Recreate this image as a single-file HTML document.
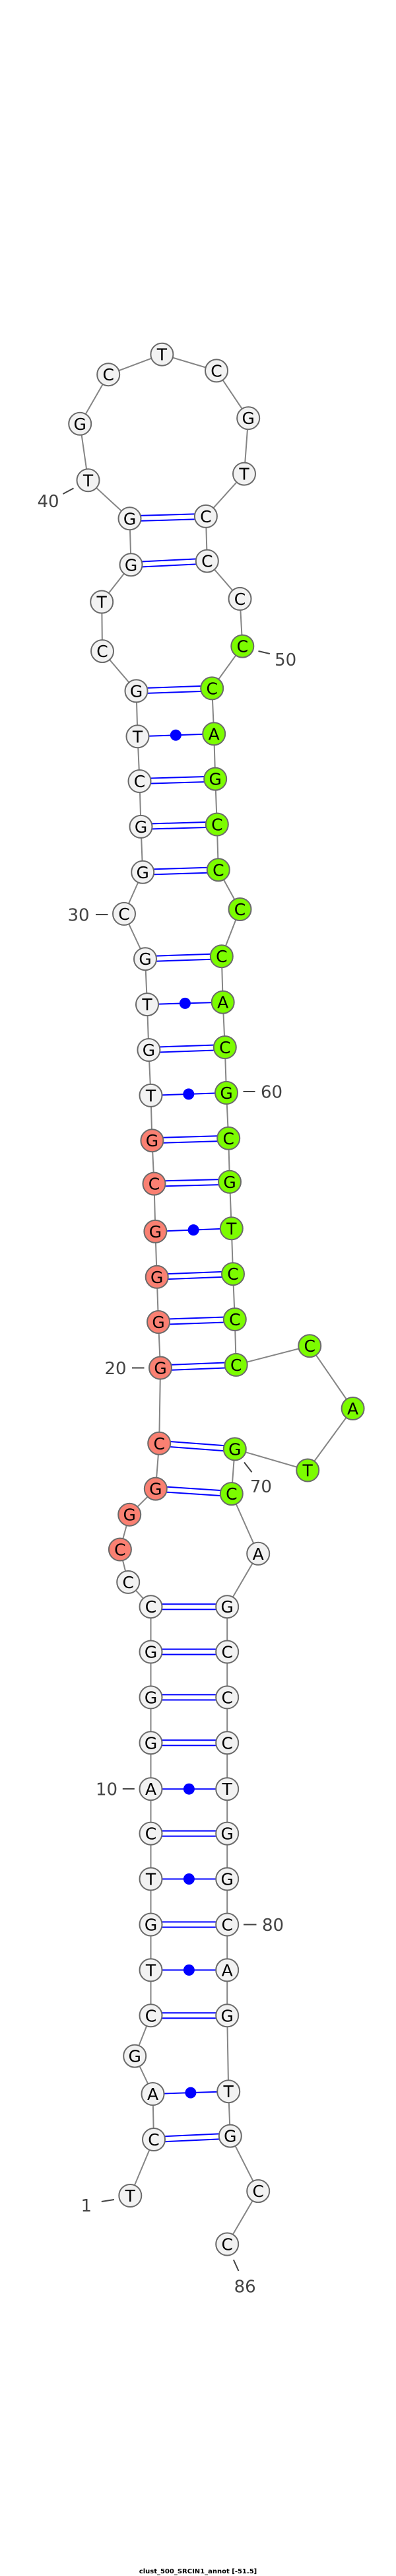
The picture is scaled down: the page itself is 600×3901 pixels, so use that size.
<!DOCTYPE html>
<html><head><meta charset="utf-8"><style>
html,body{margin:0;padding:0;background:#fff}
svg{display:block}
.bb{fill:none;stroke:#858585;stroke-width:2}
.p{stroke:#0000ff;stroke-width:2}
.n circle{stroke:#6a6a6a;stroke-width:2}
.n text{font-family:"DejaVu Sans","Liberation Sans",sans-serif;font-size:25px;text-anchor:middle;fill:#000}
.w{fill:#f2f2f2}.g{fill:#7cfc00}.r{fill:#fa8072}
.lb{font-family:"DejaVu Sans","Liberation Sans",sans-serif;font-size:26px;fill:#444;text-anchor:middle}
.tk{stroke:#444;stroke-width:2}
</style></head><body>
<svg width="600" height="3901" viewBox="0 0 600 3901" xmlns="http://www.w3.org/2000/svg">
<polyline class="bb" points="197.3,3325 233,3240 231.5,3171 204.2,3113.6 228.5,3052.3 228.5,2983.4 228.5,2914.5 228.5,2845.5 228.5,2776.6 228.5,2709.2 228.5,2639.3 228.5,2570.4 228.5,2501.5 228.5,2433.2 194.2,2395.9 181.9,2346.5 196.2,2293.7 235.8,2254.6 241.2,2185.8 243,2071.5 240,2002 237.7,1933.8 235.4,1864.9 233.5,1792.6 230.4,1727.2 228.5,1658.9 225.4,1590 223,1521.1 220,1452.2 188,1383.9 216.2,1320.8 213.5,1251.9 211.5,1183 208.5,1115.3 206.5,1046.4 155,986.1 154.2,911.5 198.5,855.3 196.5,785.3 133.5,727.3 121.2,641.8 164.2,567.2 245.4,536.7 328,561.4 376.2,633.2 370,717.6 311.9,781.9 313.8,849.6 363.5,906.9 367.3,978.6 321.2,1042.4 324.2,1111.3 326.2,1179.6 328.8,1248.5 330.8,1317.3 363.5,1377 335.8,1448.2 337.7,1517.7 340.8,1586 343,1654.9 346.2,1723.8 348,1789.8 350.8,1860.3 353,1929.2 355.8,1998 357.7,2066.9 469.2,2038.2 534.6,2133 466.2,2226.5 355.8,2194.4 350.8,2262.1 391.2,2352.8 344.2,2433.2 344.2,2501.5 344.2,2570.4 344.2,2639.3 344.2,2709.2 344.2,2776.6 344.2,2845.5 344.2,2914.5 344.2,2983.4 344.2,3052.3 346.2,3167.2 348.8,3234.6 391.2,3318.1 344.2,3398.5"/>
<g class="p">
<line x1="196.5" y1="781.3" x2="311.9" y2="777.9"/><line x1="196.5" y1="789.3" x2="311.9" y2="785.9"/>
<line x1="198.5" y1="851.3" x2="313.8" y2="845.6"/><line x1="198.5" y1="859.3" x2="313.8" y2="853.6"/>
<line x1="206.5" y1="1042.4" x2="321.2" y2="1038.4"/><line x1="206.5" y1="1050.4" x2="321.2" y2="1046.4"/>
<line x1="211.5" y1="1179" x2="326.2" y2="1175.6"/><line x1="211.5" y1="1187" x2="326.2" y2="1183.6"/>
<line x1="213.5" y1="1247.9" x2="328.8" y2="1244.5"/><line x1="213.5" y1="1255.9" x2="328.8" y2="1252.5"/>
<line x1="216.2" y1="1316.8" x2="330.8" y2="1313.3"/><line x1="216.2" y1="1324.8" x2="330.8" y2="1321.3"/>
<line x1="220" y1="1448.2" x2="335.8" y2="1444.2"/><line x1="220" y1="1456.2" x2="335.8" y2="1452.2"/>
<line x1="225.4" y1="1586" x2="340.8" y2="1582"/><line x1="225.4" y1="1594" x2="340.8" y2="1590"/>
<line x1="230.4" y1="1723.2" x2="346.2" y2="1719.8"/><line x1="230.4" y1="1731.2" x2="346.2" y2="1727.8"/>
<line x1="233.5" y1="1788.6" x2="348" y2="1785.8"/><line x1="233.5" y1="1796.6" x2="348" y2="1793.8"/>
<line x1="237.7" y1="1929.8" x2="353" y2="1925.2"/><line x1="237.7" y1="1937.8" x2="353" y2="1933.2"/>
<line x1="240" y1="1998" x2="355.8" y2="1994"/><line x1="240" y1="2006" x2="355.8" y2="2002"/>
<line x1="243" y1="2067.5" x2="357.7" y2="2062.9"/><line x1="243" y1="2075.5" x2="357.7" y2="2070.9"/>
<line x1="241.2" y1="2181.8" x2="355.8" y2="2190.4"/><line x1="241.2" y1="2189.8" x2="355.8" y2="2198.4"/>
<line x1="235.8" y1="2250.6" x2="350.8" y2="2258.1"/><line x1="235.8" y1="2258.6" x2="350.8" y2="2266.1"/>
<line x1="228.5" y1="2429.2" x2="344.2" y2="2429.2"/><line x1="228.5" y1="2437.2" x2="344.2" y2="2437.2"/>
<line x1="228.5" y1="2497.5" x2="344.2" y2="2497.5"/><line x1="228.5" y1="2505.5" x2="344.2" y2="2505.5"/>
<line x1="228.5" y1="2566.4" x2="344.2" y2="2566.4"/><line x1="228.5" y1="2574.4" x2="344.2" y2="2574.4"/>
<line x1="228.5" y1="2635.3" x2="344.2" y2="2635.3"/><line x1="228.5" y1="2643.3" x2="344.2" y2="2643.3"/>
<line x1="228.5" y1="2772.6" x2="344.2" y2="2772.6"/><line x1="228.5" y1="2780.6" x2="344.2" y2="2780.6"/>
<line x1="228.5" y1="2910.5" x2="344.2" y2="2910.5"/><line x1="228.5" y1="2918.5" x2="344.2" y2="2918.5"/>
<line x1="228.5" y1="3048.3" x2="344.2" y2="3048.3"/><line x1="228.5" y1="3056.3" x2="344.2" y2="3056.3"/>
<line x1="233" y1="3236" x2="348.8" y2="3230.6"/><line x1="233" y1="3244" x2="348.8" y2="3238.6"/>
<line x1="208.5" y1="1115.3" x2="324.2" y2="1111.3"/>
<line x1="223" y1="1521.1" x2="337.7" y2="1517.7"/>
<line x1="228.5" y1="1658.9" x2="343" y2="1654.9"/>
<line x1="235.4" y1="1864.9" x2="350.8" y2="1860.3"/>
<line x1="228.5" y1="2709.2" x2="344.2" y2="2709.2"/>
<line x1="228.5" y1="2845.5" x2="344.2" y2="2845.5"/>
<line x1="228.5" y1="2983.4" x2="344.2" y2="2983.4"/>
<line x1="231.5" y1="3171" x2="346.2" y2="3167.2"/>
</g>
<g fill="#0000ff">
<circle cx="266.3" cy="1113.3" r="8.5"/><circle cx="280.4" cy="1519.4" r="8.5"/><circle cx="285.8" cy="1656.9" r="8.5"/><circle cx="293.1" cy="1862.6" r="8.5"/><circle cx="286.4" cy="2709.2" r="8.5"/><circle cx="286.4" cy="2845.5" r="8.5"/><circle cx="286.4" cy="2983.4" r="8.5"/><circle cx="288.9" cy="3169.1" r="8.5"/>
</g>
<g class="n">
<circle class="w" cx="197.3" cy="3325" r="17"/><text x="197.3" y="3334">T</text>
<circle class="w" cx="233" cy="3240" r="17"/><text x="233" y="3249">C</text>
<circle class="w" cx="231.5" cy="3171" r="17"/><text x="231.5" y="3180">A</text>
<circle class="w" cx="204.2" cy="3113.6" r="17"/><text x="204.2" y="3122.6">G</text>
<circle class="w" cx="228.5" cy="3052.3" r="17"/><text x="228.5" y="3061.3">C</text>
<circle class="w" cx="228.5" cy="2983.4" r="17"/><text x="228.5" y="2992.4">T</text>
<circle class="w" cx="228.5" cy="2914.5" r="17"/><text x="228.5" y="2923.5">G</text>
<circle class="w" cx="228.5" cy="2845.5" r="17"/><text x="228.5" y="2854.5">T</text>
<circle class="w" cx="228.5" cy="2776.6" r="17"/><text x="228.5" y="2785.6">C</text>
<circle class="w" cx="228.5" cy="2709.2" r="17"/><text x="228.5" y="2718.2">A</text>
<circle class="w" cx="228.5" cy="2639.3" r="17"/><text x="228.5" y="2648.3">G</text>
<circle class="w" cx="228.5" cy="2570.4" r="17"/><text x="228.5" y="2579.4">G</text>
<circle class="w" cx="228.5" cy="2501.5" r="17"/><text x="228.5" y="2510.5">G</text>
<circle class="w" cx="228.5" cy="2433.2" r="17"/><text x="228.5" y="2442.2">C</text>
<circle class="w" cx="194.2" cy="2395.9" r="17"/><text x="194.2" y="2404.9">C</text>
<circle class="r" cx="181.9" cy="2346.5" r="17"/><text x="181.9" y="2355.5">C</text>
<circle class="r" cx="196.2" cy="2293.7" r="17"/><text x="196.2" y="2302.7">G</text>
<circle class="r" cx="235.8" cy="2254.6" r="17"/><text x="235.8" y="2263.6">G</text>
<circle class="r" cx="241.2" cy="2185.8" r="17"/><text x="241.2" y="2194.8">C</text>
<circle class="r" cx="243" cy="2071.5" r="17"/><text x="243" y="2080.5">G</text>
<circle class="r" cx="240" cy="2002" r="17"/><text x="240" y="2011">G</text>
<circle class="r" cx="237.7" cy="1933.8" r="17"/><text x="237.7" y="1942.8">G</text>
<circle class="r" cx="235.4" cy="1864.9" r="17"/><text x="235.4" y="1873.9">G</text>
<circle class="r" cx="233.5" cy="1792.6" r="17"/><text x="233.5" y="1801.6">C</text>
<circle class="r" cx="230.4" cy="1727.2" r="17"/><text x="230.4" y="1736.2">G</text>
<circle class="w" cx="228.5" cy="1658.9" r="17"/><text x="228.5" y="1667.9">T</text>
<circle class="w" cx="225.4" cy="1590" r="17"/><text x="225.4" y="1599">G</text>
<circle class="w" cx="223" cy="1521.1" r="17"/><text x="223" y="1530.1">T</text>
<circle class="w" cx="220" cy="1452.2" r="17"/><text x="220" y="1461.2">G</text>
<circle class="w" cx="188" cy="1383.9" r="17"/><text x="188" y="1392.9">C</text>
<circle class="w" cx="216.2" cy="1320.8" r="17"/><text x="216.2" y="1329.8">G</text>
<circle class="w" cx="213.5" cy="1251.9" r="17"/><text x="213.5" y="1260.9">G</text>
<circle class="w" cx="211.5" cy="1183" r="17"/><text x="211.5" y="1192">C</text>
<circle class="w" cx="208.5" cy="1115.3" r="17"/><text x="208.5" y="1124.3">T</text>
<circle class="w" cx="206.5" cy="1046.4" r="17"/><text x="206.5" y="1055.4">G</text>
<circle class="w" cx="155" cy="986.1" r="17"/><text x="155" y="995.1">C</text>
<circle class="w" cx="154.2" cy="911.5" r="17"/><text x="154.2" y="920.5">T</text>
<circle class="w" cx="198.5" cy="855.3" r="17"/><text x="198.5" y="864.3">G</text>
<circle class="w" cx="196.5" cy="785.3" r="17"/><text x="196.5" y="794.3">G</text>
<circle class="w" cx="133.5" cy="727.3" r="17"/><text x="133.5" y="736.3">T</text>
<circle class="w" cx="121.2" cy="641.8" r="17"/><text x="121.2" y="650.8">G</text>
<circle class="w" cx="164.2" cy="567.2" r="17"/><text x="164.2" y="576.2">C</text>
<circle class="w" cx="245.4" cy="536.7" r="17"/><text x="245.4" y="545.7">T</text>
<circle class="w" cx="328" cy="561.4" r="17"/><text x="328" y="570.4">C</text>
<circle class="w" cx="376.2" cy="633.2" r="17"/><text x="376.2" y="642.2">G</text>
<circle class="w" cx="370" cy="717.6" r="17"/><text x="370" y="726.6">T</text>
<circle class="w" cx="311.9" cy="781.9" r="17"/><text x="311.9" y="790.9">C</text>
<circle class="w" cx="313.8" cy="849.6" r="17"/><text x="313.8" y="858.6">C</text>
<circle class="w" cx="363.5" cy="906.9" r="17"/><text x="363.5" y="915.9">C</text>
<circle class="g" cx="367.3" cy="978.6" r="17"/><text x="367.3" y="987.6">C</text>
<circle class="g" cx="321.2" cy="1042.4" r="17"/><text x="321.2" y="1051.4">C</text>
<circle class="g" cx="324.2" cy="1111.3" r="17"/><text x="324.2" y="1120.3">A</text>
<circle class="g" cx="326.2" cy="1179.6" r="17"/><text x="326.2" y="1188.6">G</text>
<circle class="g" cx="328.8" cy="1248.5" r="17"/><text x="328.8" y="1257.5">C</text>
<circle class="g" cx="330.8" cy="1317.3" r="17"/><text x="330.8" y="1326.3">C</text>
<circle class="g" cx="363.5" cy="1377" r="17"/><text x="363.5" y="1386">C</text>
<circle class="g" cx="335.8" cy="1448.2" r="17"/><text x="335.8" y="1457.2">C</text>
<circle class="g" cx="337.7" cy="1517.7" r="17"/><text x="337.7" y="1526.7">A</text>
<circle class="g" cx="340.8" cy="1586" r="17"/><text x="340.8" y="1595">C</text>
<circle class="g" cx="343" cy="1654.9" r="17"/><text x="343" y="1663.9">G</text>
<circle class="g" cx="346.2" cy="1723.8" r="17"/><text x="346.2" y="1732.8">C</text>
<circle class="g" cx="348" cy="1789.8" r="17"/><text x="348" y="1798.8">G</text>
<circle class="g" cx="350.8" cy="1860.3" r="17"/><text x="350.8" y="1869.3">T</text>
<circle class="g" cx="353" cy="1929.2" r="17"/><text x="353" y="1938.2">C</text>
<circle class="g" cx="355.8" cy="1998" r="17"/><text x="355.8" y="2007">C</text>
<circle class="g" cx="357.7" cy="2066.9" r="17"/><text x="357.7" y="2075.9">C</text>
<circle class="g" cx="469.2" cy="2038.2" r="17"/><text x="469.2" y="2047.2">C</text>
<circle class="g" cx="534.6" cy="2133" r="17"/><text x="534.6" y="2142">A</text>
<circle class="g" cx="466.2" cy="2226.5" r="17"/><text x="466.2" y="2235.5">T</text>
<circle class="g" cx="355.8" cy="2194.4" r="17"/><text x="355.8" y="2203.4">G</text>
<circle class="g" cx="350.8" cy="2262.1" r="17"/><text x="350.8" y="2271.1">C</text>
<circle class="w" cx="391.2" cy="2352.8" r="17"/><text x="391.2" y="2361.8">A</text>
<circle class="w" cx="344.2" cy="2433.2" r="17"/><text x="344.2" y="2442.2">G</text>
<circle class="w" cx="344.2" cy="2501.5" r="17"/><text x="344.2" y="2510.5">C</text>
<circle class="w" cx="344.2" cy="2570.4" r="17"/><text x="344.2" y="2579.4">C</text>
<circle class="w" cx="344.2" cy="2639.3" r="17"/><text x="344.2" y="2648.3">C</text>
<circle class="w" cx="344.2" cy="2709.2" r="17"/><text x="344.2" y="2718.2">T</text>
<circle class="w" cx="344.2" cy="2776.6" r="17"/><text x="344.2" y="2785.6">G</text>
<circle class="w" cx="344.2" cy="2845.5" r="17"/><text x="344.2" y="2854.5">G</text>
<circle class="w" cx="344.2" cy="2914.5" r="17"/><text x="344.2" y="2923.5">C</text>
<circle class="w" cx="344.2" cy="2983.4" r="17"/><text x="344.2" y="2992.4">A</text>
<circle class="w" cx="344.2" cy="3052.3" r="17"/><text x="344.2" y="3061.3">G</text>
<circle class="w" cx="346.2" cy="3167.2" r="17"/><text x="346.2" y="3176.2">T</text>
<circle class="w" cx="348.8" cy="3234.6" r="17"/><text x="348.8" y="3243.6">G</text>
<circle class="w" cx="391.2" cy="3318.1" r="17"/><text x="391.2" y="3327.1">C</text>
<circle class="w" cx="344.2" cy="3398.5" r="17"/><text x="344.2" y="3407.5">C</text>
</g>
<g>
<line class="tk" x1="95.4" y1="748" x2="111.5" y2="739.4"/><text class="lb" x="73" y="768">40</text>
<line class="tk" x1="391.5" y1="986" x2="408.8" y2="990"/><text class="lb" x="432.7" y="1008">50</text>
<line class="tk" x1="145" y1="1385" x2="163.5" y2="1385"/><text class="lb" x="119" y="1394.5">30</text>
<line class="tk" x1="368.5" y1="1653" x2="386.5" y2="1653"/><text class="lb" x="411.5" y="1662.5">60</text>
<line class="tk" x1="200" y1="2071.5" x2="218.5" y2="2071.5"/><text class="lb" x="175" y="2081">20</text>
<line class="tk" x1="370" y1="2214.5" x2="381.5" y2="2229.4"/><text class="lb" x="395.4" y="2260">70</text>
<line class="tk" x1="185.8" y1="2709" x2="203.8" y2="2709"/><text class="lb" x="161.5" y="2718.5">10</text>
<line class="tk" x1="369" y1="2914.5" x2="388.5" y2="2914.5"/><text class="lb" x="413.5" y="2924">80</text>
<line class="tk" x1="153.8" y1="3334" x2="173" y2="3331"/><text class="lb" x="130.8" y="3349">1</text>
<line class="tk" x1="353.8" y1="3422" x2="361.5" y2="3439"/><text class="lb" x="371.2" y="3471.5">86</text>
</g>
<text x="300" y="3897" font-family="'DejaVu Sans','Liberation Sans',sans-serif" font-size="10" font-weight="bold" text-anchor="middle" fill="#000">clust_500_SRCIN1_annot [-51.5]</text>
</svg>
</body></html>
